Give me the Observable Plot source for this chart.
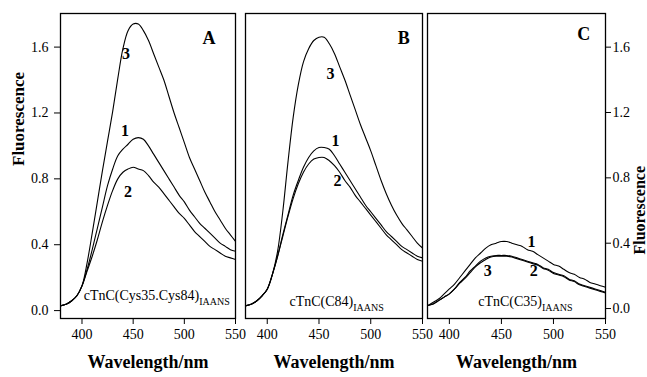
<!DOCTYPE html>
<html><head><meta charset="utf-8">
<script src="https://cdn.jsdelivr.net/npm/d3@7"></script>
<script src="https://cdn.jsdelivr.net/npm/@observablehq/plot@0.6"></script>
<style>
html,body{margin:0;padding:0;background:#fff;}
#chart{position:relative;width:647px;height:377px;overflow:hidden;background:#fff;}
#chart svg{position:absolute;left:0;top:0;}
</style></head><body><div id="chart"></div>
<script>
// ---- data ----
const wavelengths = [380,385,390,395,400,405,410,415,420,425,430,435,440,445,450,455,460,465,470,475,480,485,490,495,500,505,510,515,520,525,530,535,540,545,550];

const panelA_curve1 = [0.03,0.04,0.06,0.09,0.15,0.25,0.37,0.50,0.63,0.76,0.86,0.94,0.98,1.01,1.04,1.05,1.04,1.00,0.95,0.90,0.85,0.80,0.75,0.70,0.66,0.61,0.57,0.53,0.50,0.47,0.44,0.41,0.39,0.37,0.36];
const panelA_curve2 = [0.03,0.04,0.06,0.09,0.15,0.24,0.33,0.43,0.54,0.64,0.73,0.80,0.84,0.86,0.87,0.86,0.85,0.82,0.78,0.75,0.71,0.67,0.63,0.59,0.56,0.52,0.48,0.45,0.42,0.39,0.37,0.35,0.33,0.32,0.31];
const panelA_curve3 = [0.03,0.04,0.06,0.09,0.15,0.29,0.47,0.66,0.85,1.03,1.21,1.41,1.59,1.70,1.74,1.74,1.70,1.64,1.56,1.48,1.40,1.30,1.20,1.11,1.02,0.93,0.86,0.79,0.72,0.66,0.60,0.55,0.50,0.46,0.42];

const panelB_curve1 = [0.03,0.04,0.06,0.09,0.13,0.22,0.33,0.46,0.58,0.70,0.79,0.87,0.93,0.97,0.99,0.99,0.98,0.94,0.89,0.84,0.79,0.74,0.69,0.64,0.60,0.56,0.52,0.48,0.45,0.42,0.39,0.37,0.35,0.33,0.32];
const panelB_curve2 = [0.03,0.04,0.06,0.09,0.13,0.22,0.33,0.45,0.57,0.68,0.77,0.84,0.89,0.92,0.93,0.93,0.91,0.88,0.84,0.79,0.75,0.70,0.66,0.62,0.58,0.54,0.50,0.46,0.43,0.40,0.37,0.35,0.33,0.31,0.30];
const panelB_curve3 = [0.03,0.04,0.06,0.09,0.13,0.22,0.36,0.60,0.90,1.17,1.37,1.51,1.59,1.64,1.66,1.66,1.62,1.56,1.48,1.40,1.31,1.22,1.13,1.05,0.97,0.88,0.79,0.71,0.64,0.58,0.53,0.49,0.45,0.41,0.38];

const panelC_curve1 = [0.02,0.04,0.06,0.09,0.12,0.15,0.19,0.23,0.27,0.31,0.34,0.37,0.39,0.40,0.41,0.41,0.40,0.39,0.38,0.36,0.35,0.33,0.31,0.29,0.27,0.26,0.24,0.22,0.21,0.19,0.18,0.16,0.15,0.14,0.13];
const panelC_curve2 = [0.02,0.03,0.05,0.07,0.09,0.12,0.16,0.19,0.23,0.26,0.29,0.31,0.32,0.325,0.325,0.325,0.32,0.31,0.30,0.29,0.28,0.27,0.25,0.24,0.22,0.21,0.20,0.18,0.17,0.15,0.14,0.13,0.12,0.11,0.10];
const panelC_curve3 = [0.02,0.03,0.05,0.07,0.09,0.12,0.155,0.185,0.22,0.255,0.28,0.30,0.315,0.32,0.32,0.32,0.315,0.305,0.295,0.285,0.275,0.265,0.245,0.235,0.215,0.205,0.195,0.175,0.165,0.145,0.135,0.125,0.115,0.105,0.095];

const xTicks = [400, 450, 500, 550];
const yTicks = [0.0, 0.4, 0.8, 1.2, 1.6];
const panelNames = ["A", "B", "C"];
const subtitles = ["cTnC(Cys35.Cys84)", "cTnC(C84)", "cTnC(C35)"];
const subscript = "IAANS";
const xTitle = "Wavelength/nm";
const yTitle = "Fluorescence";

// curve number annotations (wavelength, fluorescence)
const curveLabelsA = [{t:"3", w:443, v:1.56}, {t:"1", w:442, v:1.09}, {t:"2", w:445, v:0.72}];
const curveLabelsB = [{t:"3", w:461, v:1.44}, {t:"1", w:466, v:1.03}, {t:"2", w:468, v:0.79}];
const curveLabelsC = [{t:"1", w:479, v:0.41}, {t:"3", w:437, v:0.23}, {t:"2", w:481, v:0.23}];
const letterPos = [{w:524, v:1.656}, {w:532, v:1.656}, {w:529, v:1.682}];
const subtitlePos = [{w:473, v:0.09}, {w:467, v:0.055}, {w:473, v:0.04}];

// ---- build ----
function table(curves) {
  const rows = [];
  curves.forEach((vals, i) => vals.forEach((v, j) => rows.push({curve: String(i + 1), w: wavelengths[j], v})));
  return rows;
}
const panels = [
  {rows: table([panelA_curve1, panelA_curve2, panelA_curve3]), labels: curveLabelsA, ml: 60, mr: 412, ydom: [-0.048, 1.804], yaxis: "left"},
  {rows: table([panelB_curve1, panelB_curve2, panelB_curve3]), labels: curveLabelsB, ml: 245, mr: 225, ydom: [-0.048, 1.804], yaxis: null},
  {rows: table([panelC_curve1, panelC_curve2, panelC_curve3]), labels: curveLabelsC, ml: 427, mr: 42, ydom: [-0.061, 1.806], yaxis: "right"}
];

const font = "'Liberation Serif', 'Times New Roman', serif";
const chart = document.getElementById("chart");

panels.forEach((p, i) => {
  const marks = [
    Plot.line(p.rows, {x: "w", y: "v", z: "curve", stroke: "black", strokeWidth: 1.1, curve: "catmull-rom"}),
    Plot.frame({stroke: "black", strokeWidth: 1.3}),
    Plot.text(p.labels, {x: "w", y: "v", text: "t", fontSize: 16, fontWeight: "bold", fill: "black"}),
    Plot.text([panelNames[i]], {x: () => letterPos[i].w, y: () => letterPos[i].v, text: d => d, fontSize: 18, fontWeight: "bold", fill: "black"}),
    Plot.text([subtitles[i]], {x: () => subtitlePos[i].w, y: () => subtitlePos[i].v, text: d => d, fontSize: 14, fill: "black"}),
    Plot.text([xTitle], {frameAnchor: "bottom", dy: 49, text: d => d, fontSize: 18, fontWeight: "bold", fill: "black"})
  ];
  if (p.yaxis === "left") marks.push(Plot.text([yTitle], {frameAnchor: "left", dx: -42, rotate: -90, text: d => d, fontSize: 17, fontWeight: "bold", fill: "black"}));
  if (p.yaxis === "right") marks.push(Plot.text([yTitle], {frameAnchor: "right", dx: 34, rotate: -90, text: d => d, fontSize: 16, fontWeight: "bold", fill: "black"}));

  const svg = Plot.plot({
    width: 647, height: 377,
    marginTop: 13, marginBottom: 59, marginLeft: p.ml, marginRight: p.mr,
    style: {background: "transparent", fontFamily: font, fontSize: "14px", color: "black", overflow: "visible"},
    x: {domain: [379, 550], ticks: xTicks, label: null, tickSize: 6, tickPadding: 5},
    y: {domain: p.ydom, ticks: yTicks, tickFormat: ".1f", label: null, axis: p.yaxis, tickSize: p.yaxis === "right" ? 5 : 6, tickPadding: p.yaxis === "right" ? 2 : 6},
    marks
  });
  // subscript "IAANS"
  d3.select(svg).selectAll("text").filter(function() { return this.textContent === subtitles[i]; })
    .append("tspan").attr("dy", "0.45em").attr("font-size", 10).text(subscript);
  chart.appendChild(svg);
});
</script></body></html>
